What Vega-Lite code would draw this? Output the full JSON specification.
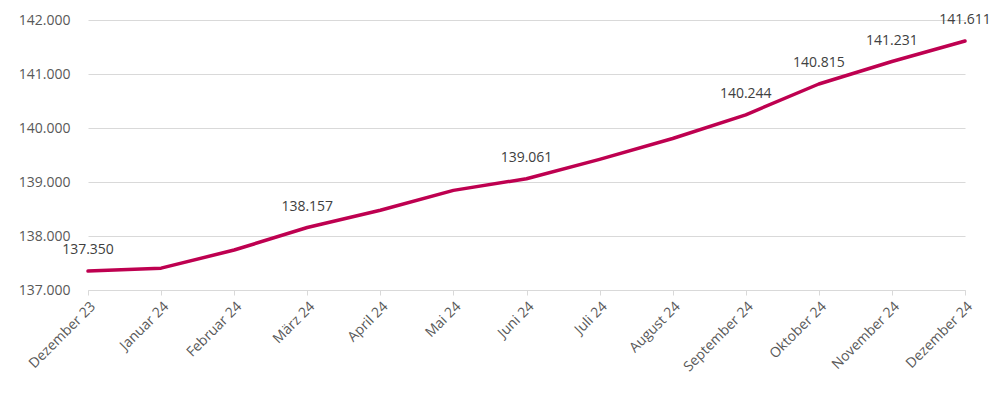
{
  "$schema": "https://vega.github.io/schema/vega-lite/v6.json",
  "width": 877,
  "height": 270,
  "autosize": {"type": "none"},
  "padding": {"left": 88, "top": 20, "right": 35, "bottom": 103},
  "background": "white",
  "config": {
    "locale": {"number": {"decimal": ",", "thousands": ".", "grouping": [3], "currency": ["", " €"]}},
    "view": {"stroke": null},
    "font": "Open Sans"
  },
  "data": {
    "values": [
      {"monat": "Dezember 23", "wert": 137350, "beschriftet": true},
      {"monat": "Januar 24", "wert": 137405, "beschriftet": false},
      {"monat": "Februar 24", "wert": 137740, "beschriftet": false},
      {"monat": "März 24", "wert": 138157, "beschriftet": true},
      {"monat": "April 24", "wert": 138478, "beschriftet": false},
      {"monat": "Mai 24", "wert": 138845, "beschriftet": false},
      {"monat": "Juni 24", "wert": 139061, "beschriftet": true},
      {"monat": "Juli 24", "wert": 139418, "beschriftet": false},
      {"monat": "August 24", "wert": 139805, "beschriftet": false},
      {"monat": "September 24", "wert": 140244, "beschriftet": true},
      {"monat": "Oktober 24", "wert": 140815, "beschriftet": true},
      {"monat": "November 24", "wert": 141231, "beschriftet": true},
      {"monat": "Dezember 24", "wert": 141611, "beschriftet": true}
    ]
  },
  "encoding": {
    "x": {
      "field": "monat", "type": "ordinal", "sort": null,
      "scale": {"type": "point", "padding": 0},
      "axis": {
        "title": null, "labelAngle": -45, "labelAlign": "right", "labelBaseline": "top",
        "labelFontSize": 14, "labelColor": "#595959", "labelPadding": 4, "labelOverlap": false,
        "domainColor": "#d9d9d9", "tickColor": "#d9d9d9", "tickSize": 5, "grid": false
      }
    },
    "y": {
      "field": "wert", "type": "quantitative",
      "scale": {"domain": [137000, 142000], "nice": false, "zero": false},
      "axis": {
        "title": null, "format": ",d", "values": [137000, 138000, 139000, 140000, 141000, 142000],
        "labelOverlap": false, "labelFlush": false,
        "domain": false, "ticks": false, "labelPadding": 18, "labelFontSize": 14, "labelColor": "#595959",
        "gridColor": "#d9d9d9", "gridWidth": 1
      }
    }
  },
  "layer": [
    {"mark": {"type": "line", "color": "#BE0050", "strokeWidth": 3.5, "strokeCap": "round", "strokeJoin": "round"}},
    {
      "transform": [{"filter": "datum.beschriftet"}],
      "mark": {"type": "text", "dy": -21, "fontSize": 14, "color": "#404040", "baseline": "middle"},
      "encoding": {"text": {"field": "wert", "type": "quantitative", "format": ",d"}}
    }
  ]
}
